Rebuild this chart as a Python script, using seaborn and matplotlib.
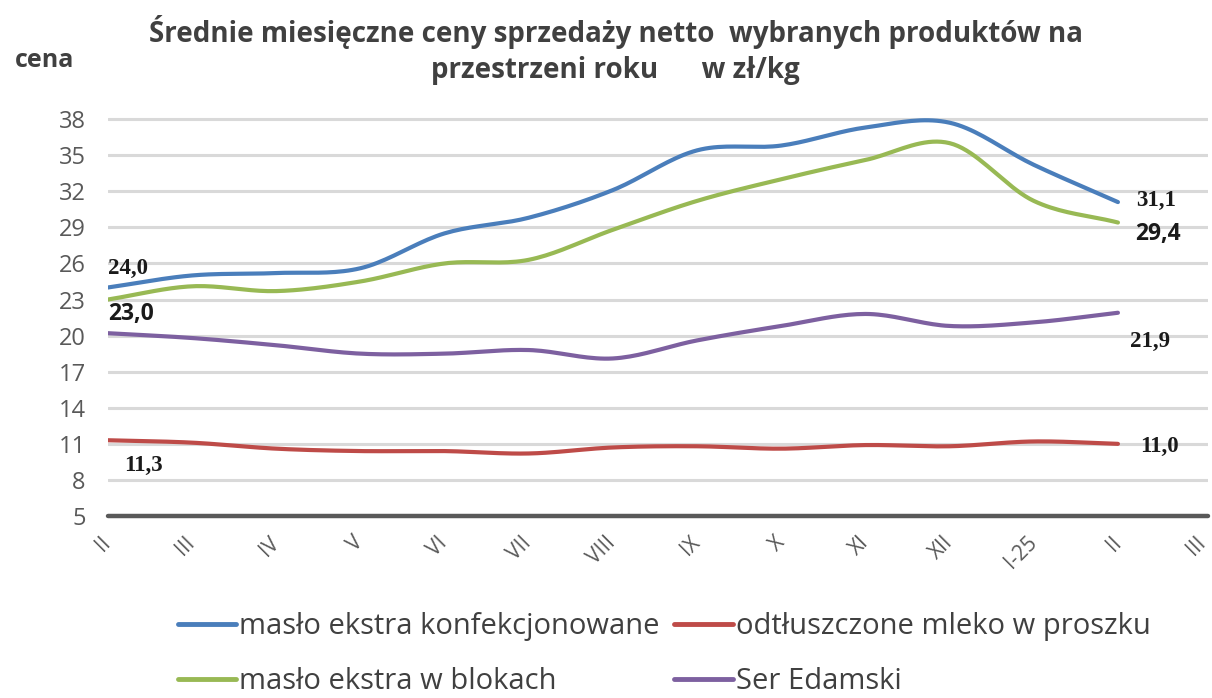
import numpy as np
import pandas as pd
import matplotlib
matplotlib.use("Agg")
import matplotlib.pyplot as plt
import seaborn as sns

# Months on the category axis (the last one has no data yet)
months = ["II", "III", "IV", "V", "VI", "VII", "VIII", "IX", "X", "XI", "XII", "I-25", "II", "III"]

# Average monthly net prices, zł/kg
maslo_konf = [24.0, 25.0, 25.2, 25.6, 28.5, 29.8, 32.1, 35.4, 35.8, 37.3, 37.7, 34.2, 31.1]
mleko_proszek = [11.3, 11.1, 10.6, 10.4, 10.4, 10.2, 10.7, 10.8, 10.6, 10.9, 10.8, 11.2, 11.0]
maslo_bloki = [23.0, 24.1, 23.7, 24.5, 26.0, 26.3, 28.8, 31.2, 33.0, 34.6, 36.0, 31.2, 29.4]
ser_edamski = [20.2, 19.8, 19.2, 18.5, 18.5, 18.8, 18.1, 19.6, 20.8, 21.8, 20.8, 21.1, 21.9]

series_names = ["masło ekstra konfekcjonowane", "odtłuszczone mleko w proszku",
                "masło ekstra w blokach", "Ser Edamski"]
series_values = [maslo_konf, mleko_proszek, maslo_bloki, ser_edamski]
colors = ["#4A7EBB", "#BE4B48", "#98B954", "#7D60A0"]


def smooth(y, steps=20):
    """Catmull-Rom curve through the points, like a smoothed spreadsheet line."""
    y = np.asarray(y, float)
    x = np.arange(len(y), dtype=float)
    px = np.concatenate([[2 * x[0] - x[1]], x, [2 * x[-1] - x[-2]]])
    py = np.concatenate([[2 * y[0] - y[1]], y, [2 * y[-1] - y[-2]]])
    xs, ys = [], []
    t = np.linspace(0, 1, steps, endpoint=False)
    for i in range(1, len(px) - 2):
        for arr, out in ((px, xs), (py, ys)):
            p0, p1, p2, p3 = arr[i - 1], arr[i], arr[i + 1], arr[i + 2]
            out.extend(0.5 * ((2 * p1) + (-p0 + p2) * t
                              + (2 * p0 - 5 * p1 + 4 * p2 - p3) * t ** 2
                              + (-p0 + 3 * p1 - 3 * p2 + p3) * t ** 3))
    xs.append(x[-1]); ys.append(y[-1])
    return np.array(xs), np.array(ys)


sns.set_theme(style="white")
plt.rcParams["font.family"] = ["Open Sans", "DejaVu Sans"]

fig = plt.figure(figsize=(12.12, 6.98), dpi=100)
ax = fig.add_axes([0.089, 0.2607, 0.9077, 0.5773])

frames = []
for name, vals in zip(series_names, series_values):
    sx, sy = smooth(vals)
    frames.append(pd.DataFrame({"x": sx, "y": sy, "seria": name}))
df = pd.concat(frames, ignore_index=True)

sns.lineplot(data=df, x="x", y="y", hue="seria", hue_order=series_names,
             palette=colors, linewidth=3.0, sort=False, estimator=None,
             ax=ax, legend=False)

ax.set_xlim(0, len(months) - 0.93)
ax.set_ylim(5, 38.5)
yt = np.arange(5, 39, 3)
ax.set_yticks(yt)
ax.set_yticklabels([str(v) for v in yt])
ax.set_xticks(range(len(months)))
ax.set_xticklabels(months, rotation=45, ha="right", va="center",
                   rotation_mode="anchor")
ax.tick_params(axis="x", length=0, pad=17, labelsize=15, labelcolor="#595959")
ax.tick_params(axis="y", length=0, pad=16, labelsize=17, labelcolor="#595959")
ax.set_xlabel("")
ax.set_ylabel("")

for v in yt[1:]:
    ax.axhline(v, color="#D9D9D9", linewidth=2.2, zorder=0)
ax.axhline(5, color="#595959", linewidth=3.2, zorder=1, clip_on=False)
for s in ax.spines.values():
    s.set_visible(False)

# Value labels at the first and last months
n = len(maslo_konf) - 1
serif = dict(family=["Liberation Serif", "DejaVu Serif"], fontweight="bold",
             fontsize=16.5, color="#1a1a1a")
sansb = dict(family=["Open Sans", "DejaVu Sans"], fontweight="bold",
             fontsize=16.5, color="#1a1a1a")


def fmt(v):
    return f"{v:.1f}".replace(".", ",")


def label(x, y, dx, dy, style):
    ax.annotate(fmt(y), (x, y), xytext=(dx, dy), textcoords="offset pixels",
                ha="left", va="center", **style)


label(0, maslo_konf[0], 0, 19, serif)
label(0, maslo_bloki[0], 0, -14, sansb)
label(0, mleko_proszek[0], 16, -25, serif)
label(n, maslo_konf[-1], 18, 2, serif)
label(n, maslo_bloki[-1], 17, -11, sansb)
label(n, ser_edamski[-1], 12, -29, serif)
label(n, mleko_proszek[-1], 22, -3, serif)

fig.text(0.508, 0.978, "Średnie miesięczne ceny sprzedaży netto  wybranych produktów na\n"
         "przestrzeni roku      w zł/kg", ha="center", va="top",
         fontsize=20, fontweight="bold", color="#404040", linespacing=1.3)
fig.text(0.012, 0.914, "cena", ha="left", va="center", fontsize=18,
         fontweight="bold", color="#404040")

handles = [plt.Line2D([], [], color=c, linewidth=3.5) for c in colors]
order = [0, 2, 1, 3]
leg = fig.legend([handles[i] for i in order], [series_names[i] for i in order],
                 ncol=2, loc="center", bbox_to_anchor=(0.548, 0.063),
                 frameon=False, fontsize=21, handlelength=2.0, handletextpad=0.1,
                 columnspacing=0.5, labelspacing=0.9, borderpad=0.0)
for t in leg.get_texts():
    t.set_color("#404040")

fig.savefig("out.png", dpi=100, facecolor="white")
